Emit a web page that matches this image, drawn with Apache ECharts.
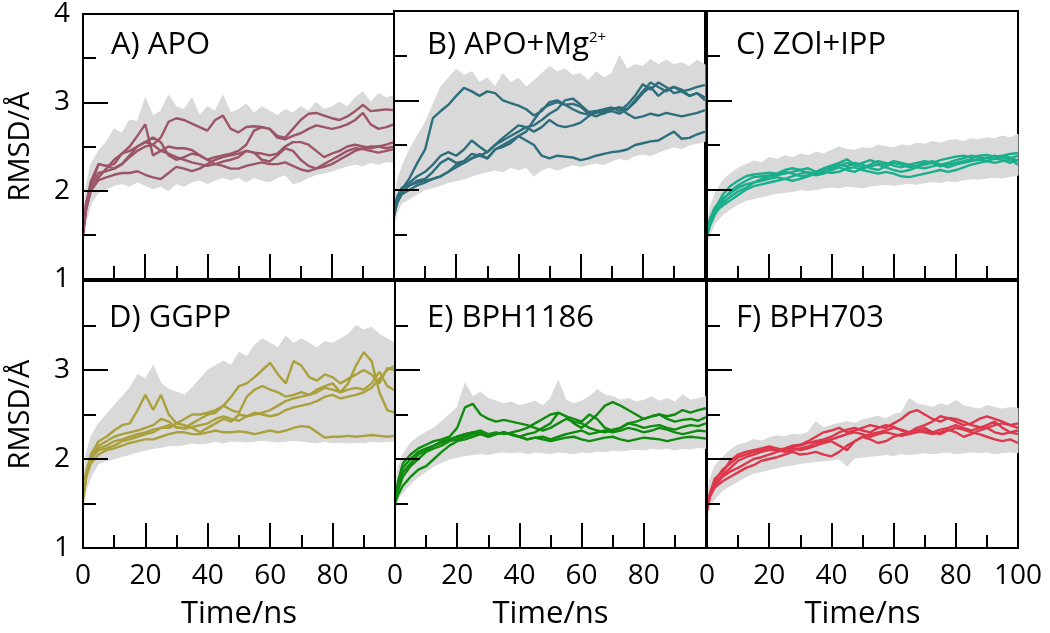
<!DOCTYPE html>
<html>
<head>
<meta charset="utf-8">
<script src="https://cdn.jsdelivr.net/npm/echarts@6/dist/echarts.min.js"></script>
<style>
html,body{margin:0;padding:0;background:#fff;}
#chart{width:1050px;height:633px;}
</style>
</head>
<body>
<div id="chart"></div>
<script>
// time axis (ns)
const T = [0,1,2.5,5,7.5,10, 12.5,15,17.5,20,22.5,25, 27.5,30,32.5,35,37.5,40, 42.5,45,47.5,50,52.5,55, 57.5,60,62.5,65,67.5,70, 72.5,75,77.5,80,82.5,85, 87.5,90,92.5,95,97.5,100];

const yTicks = [1,2,3,4];
const xTicks = [0,20,40,60,80,100];

// Panel titles
const titlesText = ['A) APO','B) APO+Mg','C) ZOl+IPP','D) GGPP','E) BPH1186','F) BPH703'];
const colors = ['#9b5566','#2e6e7c','#1aae8c','#aaa03c','#0f8c0f','#dc374b'];

// A) APO runs (smoothed)
const runsA = [
 [1.52,1.80,2.05,2.20,2.22,2.25, 2.30,2.38,2.45,2.50,2.52,2.60, 2.78,2.82,2.80,2.76,2.72,2.68, 2.80,2.85,2.70,2.66,2.72,2.73, 2.72,2.70,2.62,2.60,2.70,2.80, 2.87,2.88,2.85,2.82,2.80,2.84, 2.90,2.97,2.90,2.91,2.92,2.91],
 [1.55,1.85,2.10,2.30,2.28,2.30, 2.42,2.50,2.62,2.75,2.40,2.45, 2.50,2.48,2.48,2.46,2.40,2.35, 2.38,2.40,2.42,2.45,2.52,2.68, 2.72,2.70,2.60,2.58,2.62,2.65, 2.70,2.74,2.72,2.70,2.72,2.75, 2.80,2.88,2.75,2.70,2.72,2.75],
 [1.50,1.78,2.00,2.15,2.25,2.35, 2.42,2.45,2.50,2.55,2.52,2.45, 2.42,2.38,2.35,2.32,2.30,2.28, 2.30,2.33,2.35,2.38,2.45,2.43, 2.42,2.40,2.42,2.50,2.55,2.55, 2.52,2.45,2.38,2.42,2.45,2.50, 2.52,2.50,2.48,2.50,2.52,2.55],
 [1.55,1.80,2.00,2.12,2.15,2.18, 2.20,2.20,2.22,2.18,2.15,2.13, 2.20,2.27,2.25,2.22,2.25,2.30, 2.35,2.38,2.40,2.42,2.45,2.43, 2.35,2.33,2.40,2.48,2.45,2.35, 2.28,2.25,2.27,2.30,2.35,2.40, 2.45,2.48,2.50,2.50,2.48,2.50],
 [1.50,1.85,2.05,2.30,2.28,2.25, 2.30,2.40,2.50,2.55,2.60,2.55, 2.40,2.35,2.38,2.42,2.40,2.35, 2.30,2.28,2.25,2.25,2.28,2.30, 2.32,2.30,2.30,2.32,2.28,2.24, 2.22,2.25,2.30,2.35,2.40,2.45, 2.48,2.47,2.45,2.43,2.45,2.47]
];
const bandLoA = [1.40,1.65,1.85,1.98,2.02,2.06, 2.08,2.05,2.10,2.06,2.02,2.05, 2.00,2.08,2.05,2.10,2.12,2.08, 2.12,2.15,2.12,2.15,2.10,2.15, 2.12,2.10,2.15,2.18,2.08,2.10, 2.15,2.18,2.20,2.22,2.25,2.28, 2.30,2.28,2.32,2.30,2.33,2.32];
const bandHiA = [1.70,2.05,2.30,2.45,2.55,2.70, 2.65,2.80,2.78,3.05,2.85,2.90, 3.08,2.95,2.92,3.05,2.85,2.95, 2.90,3.08,2.88,2.92,2.98,2.88, 2.95,2.90,2.85,2.92,2.88,2.95, 2.90,3.00,2.92,2.95,3.00,2.95, 3.05,3.12,3.00,3.10,3.05,3.08];

// B) APO+Mg2+
const runsB = [
 [1.75,1.90,2.00,2.13,2.30,2.45, 2.80,2.88,2.95,3.05,3.14,3.10, 3.05,3.10,3.08,3.00,2.97,2.94, 2.90,2.83,2.88,2.98,3.00,2.95, 2.96,2.93,2.85,2.82,2.86,2.88, 2.85,2.90,3.00,3.10,3.20,3.15, 3.10,3.15,3.12,3.05,3.08,3.00],
 [1.72,1.85,1.95,2.00,2.05,2.08, 2.12,2.15,2.20,2.25,2.30,2.35, 2.38,2.42,2.50,2.55,2.60,2.65, 2.70,2.72,2.78,2.85,2.90,3.00, 3.02,2.95,2.87,2.88,2.90,2.92, 2.88,2.95,3.05,3.18,3.12,3.20, 3.15,3.08,3.10,3.12,3.15,3.17],
 [1.75,1.92,2.02,2.08,2.15,2.20, 2.28,2.38,2.42,2.38,2.45,2.55, 2.48,2.42,2.50,2.58,2.65,2.72, 2.70,2.65,2.70,2.78,2.72,2.70, 2.72,2.75,2.82,2.88,2.85,2.90, 2.92,2.85,2.80,2.82,2.85,2.83, 2.86,2.84,2.82,2.84,2.86,2.89],
 [1.70,1.85,1.98,2.05,2.10,2.12, 2.20,2.30,2.35,2.30,2.32,2.40, 2.38,2.35,2.45,2.50,2.55,2.60, 2.65,2.78,2.90,2.95,2.98,2.95, 2.90,2.86,2.84,2.86,2.88,2.90, 2.92,2.90,2.98,3.08,3.15,3.05, 3.12,3.15,3.10,3.05,3.08,3.03],
 [1.74,1.88,1.98,2.05,2.08,2.10, 2.12,2.15,2.20,2.28,2.30,2.35, 2.40,2.35,2.45,2.48,2.52,2.60, 2.55,2.50,2.38,2.35,2.38,2.37, 2.36,2.33,2.35,2.38,2.40,2.42, 2.43,2.45,2.50,2.52,2.54,2.55, 2.60,2.65,2.57,2.58,2.62,2.65]
];
const bandLoB = [1.60,1.75,1.85,1.90,1.95,2.00, 2.02,2.05,2.08,2.10,2.12,2.15, 2.18,2.20,2.22,2.20,2.25,2.22, 2.25,2.15,2.22,2.25,2.22,2.25, 2.28,2.26,2.28,2.30,2.28,2.32, 2.35,2.33,2.38,2.40,2.38,2.42, 2.45,2.48,2.46,2.50,2.52,2.54];
const bandHiB = [1.85,2.10,2.25,2.45,2.60,2.75, 2.95,3.15,3.25,3.35,3.28,3.32, 3.20,3.25,3.15,3.30,3.20,3.25, 3.15,3.22,3.30,3.38,3.32,3.35, 3.28,3.30,3.22,3.32,3.25,3.30, 3.50,3.35,3.40,3.38,3.46,3.40, 3.45,3.40,3.42,3.38,3.45,3.40];

// C) ZOl+IPP
const runsC = [
 [1.50,1.62,1.78,1.94,2.04,2.10, 2.15,2.17,2.18,2.19,2.18,2.22, 2.24,2.22,2.18,2.20,2.24,2.27, 2.30,2.34,2.28,2.25,2.28,2.32, 2.30,2.27,2.25,2.28,2.30,2.32, 2.30,2.33,2.35,2.37,2.38,2.36, 2.38,2.39,2.37,2.38,2.40,2.41],
 [1.52,1.65,1.75,1.88,1.98,2.05, 2.10,2.14,2.15,2.16,2.18,2.20, 2.18,2.15,2.16,2.20,2.22,2.25, 2.28,2.26,2.30,2.28,2.24,2.22, 2.26,2.30,2.28,2.25,2.27,2.30, 2.32,2.28,2.30,2.33,2.35,2.38, 2.36,2.35,2.38,2.36,2.35,2.38],
 [1.48,1.60,1.72,1.85,1.92,1.98, 2.02,2.08,2.10,2.12,2.14,2.12, 2.15,2.18,2.20,2.16,2.18,2.22, 2.25,2.22,2.20,2.24,2.26,2.28, 2.25,2.22,2.20,2.22,2.25,2.24, 2.26,2.28,2.25,2.28,2.30,2.32, 2.34,2.32,2.35,2.33,2.30,2.34],
 [1.50,1.62,1.75,1.82,1.88,1.94, 2.00,2.04,2.06,2.08,2.10,2.12, 2.10,2.12,2.15,2.18,2.20,2.19, 2.20,2.24,2.25,2.22,2.20,2.18, 2.20,2.18,2.15,2.14,2.16,2.18, 2.20,2.22,2.20,2.22,2.25,2.28, 2.30,2.32,2.30,2.32,2.34,2.28],
 [1.52,1.68,1.80,1.90,1.96,2.02, 2.06,2.08,2.12,2.15,2.16,2.18, 2.20,2.22,2.24,2.20,2.22,2.24, 2.27,2.30,2.27,2.30,2.33,2.30, 2.28,2.32,2.30,2.28,2.26,2.28, 2.30,2.26,2.28,2.30,2.32,2.34, 2.33,2.36,2.34,2.37,2.36,2.32]
];
const bandLoC = [1.40,1.50,1.62,1.72,1.78,1.84, 1.88,1.90,1.92,1.94,1.96,1.97, 1.98,2.00,1.99,2.00,2.02,2.03, 2.02,2.04,2.03,2.02,2.04,2.05, 2.06,2.05,2.06,2.07,2.06,2.08, 2.09,2.08,2.10,2.09,2.11,2.12, 2.12,2.13,2.14,2.13,2.15,2.16];
const bandHiC = [1.60,1.80,1.95,2.10,2.18,2.24, 2.28,2.32,2.30,2.36,2.34,2.38, 2.36,2.40,2.38,2.42,2.40,2.44, 2.48,2.45,2.44,2.47,2.46,2.50, 2.48,2.47,2.50,2.49,2.52,2.51, 2.54,2.52,2.55,2.56,2.54,2.57, 2.56,2.58,2.57,2.60,2.58,2.62];

// D) GGPP
const runsD = [
 [1.55,1.80,1.95,2.05,2.10,2.12, 2.15,2.18,2.20,2.22,2.22,2.25, 2.28,2.30,2.30,2.28,2.28,2.30, 2.32,2.30,2.30,2.31,2.30,2.28, 2.30,2.32,2.30,2.32,2.35,2.37, 2.36,2.30,2.24,2.25,2.25,2.26, 2.25,2.26,2.27,2.26,2.25,2.26],
 [1.60,1.85,2.05,2.20,2.25,2.32, 2.38,2.40,2.55,2.72,2.55,2.72, 2.50,2.40,2.38,2.35,2.30,2.35, 2.40,2.45,2.42,2.50,2.48,2.50, 2.52,2.55,2.60,2.65,2.68,2.70, 2.72,2.75,2.80,2.78,2.75,2.85, 3.05,3.20,3.10,2.75,2.55,2.52],
 [1.55,1.80,2.00,2.15,2.20,2.25, 2.28,2.30,2.32,2.35,2.38,2.45, 2.42,2.35,2.35,2.40,2.45,2.50, 2.52,2.60,2.70,2.82,2.85,2.92, 3.00,3.08,2.95,2.85,3.10,3.05, 2.92,2.88,2.95,2.92,2.85,2.90, 2.95,3.00,2.95,2.85,3.02,3.00],
 [1.60,1.85,2.00,2.12,2.15,2.20, 2.22,2.25,2.28,2.30,2.33,2.35, 2.35,2.40,2.45,2.50,2.50,2.52, 2.55,2.60,2.55,2.52,2.70,2.78, 2.82,2.78,2.75,2.70,2.72,2.75, 2.72,2.78,2.82,2.85,2.75,2.78, 2.80,2.78,2.85,2.98,2.82,2.77],
 [1.55,1.80,2.00,2.10,2.12,2.15, 2.20,2.22,2.25,2.28,2.30,2.35, 2.38,2.36,2.34,2.36,2.38,2.40, 2.45,2.48,2.45,2.43,2.48,2.52, 2.50,2.48,2.50,2.55,2.58,2.60, 2.62,2.65,2.70,2.72,2.68,2.70, 2.72,2.75,2.80,2.90,3.00,3.05]
];
const bandLoD = [1.45,1.65,1.80,1.95,1.98,2.00, 2.03,2.05,2.08,2.10,2.12,2.13, 2.15,2.15,2.16,2.18,2.17,2.18, 2.20,2.18,2.20,2.20,2.19,2.20, 2.21,2.20,2.19,2.20,2.21,2.20, 2.19,2.18,2.20,2.18,2.19,2.18, 2.19,2.18,2.20,2.19,2.20,2.20];
const bandHiD = [1.70,2.05,2.25,2.40,2.50,2.60, 2.70,2.80,2.95,2.90,3.05,2.85, 2.78,2.75,2.72,2.80,2.90,3.00, 3.05,3.10,3.05,3.20,3.15,3.28, 3.35,3.30,3.25,3.38,3.30,3.35, 3.30,3.25,3.32,3.30,3.35,3.40, 3.50,3.45,3.48,3.40,3.35,3.30];

// E) BPH1186
const runsE = [
 [1.55,1.75,1.95,2.05,2.12,2.16, 2.20,2.22,2.25,2.35,2.58,2.62, 2.50,2.45,2.42,2.44,2.42,2.40, 2.38,2.35,2.32,2.35,2.40,2.45, 2.42,2.40,2.35,2.32,2.30,2.33, 2.35,2.40,2.42,2.45,2.48,2.50, 2.48,2.50,2.55,2.52,2.55,2.57],
 [1.55,1.70,1.85,1.95,2.05,2.10, 2.15,2.20,2.22,2.25,2.28,2.30, 2.32,2.28,2.30,2.28,2.30,2.32, 2.35,2.40,2.45,2.50,2.52,2.48, 2.40,2.35,2.42,2.50,2.60,2.64, 2.60,2.55,2.50,2.45,2.48,2.50, 2.45,2.42,2.44,2.45,2.43,2.47],
 [1.54,1.72,1.90,2.00,2.08,2.12, 2.15,2.18,2.22,2.25,2.28,2.30, 2.28,2.26,2.28,2.30,2.27,2.25, 2.28,2.30,2.35,2.40,2.52,2.48, 2.45,2.42,2.50,2.45,2.35,2.32, 2.35,2.40,2.38,2.35,2.37,2.38, 2.35,2.33,2.36,2.38,2.37,2.40],
 [1.55,1.65,1.80,1.92,2.00,2.08, 2.12,2.15,2.20,2.22,2.25,2.28, 2.30,2.25,2.28,2.30,2.28,2.25, 2.22,2.24,2.25,2.22,2.25,2.28, 2.30,2.32,2.28,2.30,2.32,2.30, 2.32,2.35,2.33,2.30,2.32,2.35, 2.33,2.30,2.28,2.30,2.32,2.31],
 [1.50,1.60,1.70,1.80,1.88,1.92, 2.00,2.08,2.15,2.20,2.22,2.25, 2.28,2.25,2.28,2.30,2.28,2.25, 2.22,2.24,2.22,2.20,2.22,2.24, 2.25,2.22,2.20,2.22,2.24,2.25, 2.22,2.20,2.22,2.24,2.23,2.22, 2.20,2.22,2.24,2.25,2.24,2.23]
];
const bandLoE = [1.45,1.55,1.62,1.72,1.80,1.86, 1.92,1.96,2.00,2.02,2.04,2.05, 2.06,2.05,2.07,2.08,2.07,2.08, 2.06,2.08,2.07,2.06,2.08,2.07, 2.06,2.08,2.07,2.09,2.08,2.10, 2.09,2.10,2.11,2.10,2.12,2.11, 2.12,2.10,2.12,2.11,2.13,2.12];
const bandHiE = [1.65,1.90,2.05,2.18,2.25,2.30, 2.35,2.42,2.50,2.58,2.85,2.70, 2.75,2.68,2.65,2.62,2.64,2.60, 2.62,2.65,2.60,2.68,2.88,2.66, 2.62,2.65,2.70,2.78,2.72,2.70, 2.66,2.68,2.64,2.66,2.70,2.65, 2.68,2.64,2.72,2.66,2.68,2.70];

// F) BPH703
const runsF = [
 [1.42,1.60,1.75,1.88,1.95,2.02, 2.05,2.08,2.10,2.12,2.10,2.12, 2.15,2.16,2.20,2.25,2.30,2.32, 2.35,2.30,2.32,2.35,2.38,2.36, 2.35,2.40,2.45,2.52,2.55,2.50, 2.45,2.42,2.46,2.45,2.42,2.38, 2.36,2.35,2.38,2.40,2.38,2.40],
 [1.45,1.62,1.78,1.85,1.98,2.05, 2.08,2.10,2.12,2.14,2.12,2.10, 2.13,2.15,2.18,2.20,2.22,2.25, 2.30,2.33,2.35,2.32,2.30,2.35, 2.38,2.36,2.32,2.30,2.35,2.38, 2.42,2.48,2.46,2.42,2.38,2.40, 2.45,2.48,2.45,2.42,2.38,2.35],
 [1.45,1.60,1.70,1.80,1.86,1.90, 1.95,2.00,2.02,2.05,2.08,2.10, 2.12,2.10,2.12,2.15,2.18,2.20, 2.15,2.10,2.20,2.25,2.28,2.30, 2.32,2.35,2.33,2.30,2.32,2.35, 2.30,2.28,2.32,2.35,2.33,2.30, 2.28,2.25,2.22,2.20,2.22,2.18],
 [1.44,1.58,1.68,1.75,1.80,1.85, 1.90,1.93,1.98,2.00,2.02,2.05, 2.08,2.05,2.06,2.08,2.05,2.03, 2.08,2.15,2.20,2.25,2.22,2.18, 2.20,2.25,2.28,2.30,2.32,2.30, 2.28,2.30,2.33,2.30,2.25,2.28, 2.32,2.35,2.30,2.28,2.30,2.32],
 [1.42,1.60,1.72,1.82,1.90,1.98, 2.02,2.05,2.08,2.10,2.10,2.08, 2.10,2.12,2.14,2.18,2.20,2.22, 2.25,2.28,2.30,2.28,2.25,2.28, 2.30,2.28,2.26,2.28,2.30,2.32, 2.30,2.33,2.35,2.38,2.35,2.32, 2.35,2.38,2.42,2.35,2.30,2.28]
];
const bandLoF = [1.35,1.48,1.55,1.65,1.70,1.75, 1.80,1.84,1.86,1.88,1.90,1.92, 1.93,1.95,1.96,1.97,1.98,1.99, 2.00,1.92,2.01,2.02,2.03,2.04, 2.05,2.04,2.06,2.05,2.06,2.07, 2.06,2.07,2.08,2.06,2.07,2.08, 2.07,2.08,2.06,2.07,2.08,2.07];
const bandHiF = [1.55,1.78,1.92,2.02,2.10,2.16, 2.18,2.22,2.20,2.24,2.26,2.25, 2.28,2.27,2.30,2.42,2.35,2.38, 2.40,2.42,2.40,2.44,2.46,2.48, 2.45,2.50,2.52,2.68,2.62,2.60, 2.58,2.62,2.60,2.66,2.60,2.58, 2.56,2.60,2.58,2.56,2.58,2.57];

const allRuns = [runsA, runsB, runsC, runsD, runsE, runsF];
const bandsLo = [bandLoA, bandLoB, bandLoC, bandLoD, bandLoE, bandLoF];
const bandsHi = [bandHiA, bandHiB, bandHiC, bandHiD, bandHiE, bandHiF];

const FONT = '"Open Sans", "DejaVu Sans", sans-serif';
const gridPos = [
  {left: 83, top: 11, width: 311, height: 268},
  {left: 394, top: 11, width: 311, height: 268},
  {left: 707, top: 11, width: 311, height: 268},
  {left: 83, top: 281, width: 312, height: 267},
  {left: 395, top: 281, width: 311, height: 267},
  {left: 707, top: 281, width: 311, height: 267}
];
const titlePos = [
  {left: 111, top: 30}, {left: 427, top: 30}, {left: 736, top: 30},
  {left: 109, top: 303}, {left: 427, top: 303}, {left: 736, top: 303}
];

const grids = [], xAxes = [], yAxes = [], series = [], titles = [];
const tickStyle = {color: '#000', width: 2};

for (let i = 0; i < 6; i++) {
  const bottomRow = i >= 3;
  grids.push(Object.assign({show: true, borderColor: '#000', borderWidth: 2, backgroundColor: 'transparent', z: 0}, gridPos[i]));
  xAxes.push({
    gridIndex: i, type: 'value', min: xTicks[0], max: xTicks[xTicks.length - 1], interval: 20, z: 10,
    axisLine: {show: true, onZero: false, lineStyle: {color: '#000', width: 2}},
    axisTick: {show: true, inside: true, length: 25, lineStyle: tickStyle},
    minorTick: {show: true, splitNumber: 2, length: 13, lineStyle: tickStyle},
    splitLine: {show: false},
    axisLabel: {
      show: bottomRow, fontSize: 28, color: '#000', fontFamily: FONT, margin: 14,
      formatter: (v) => (i < 5 && v === 100) ? '' : String(v)
    },
    name: bottomRow ? 'Time/ns' : '', nameLocation: 'middle', nameGap: 51,
    nameTextStyle: {fontSize: 31, color: '#000', fontFamily: FONT}
  });
  yAxes.push({
    gridIndex: i, type: 'value', min: yTicks[0], max: yTicks[yTicks.length - 1], interval: 1, z: 10,
    axisLine: {show: true, onZero: false, lineStyle: {color: '#000', width: 2}},
    axisTick: {show: true, inside: true, length: 25, lineStyle: tickStyle},
    minorTick: {show: true, splitNumber: 2, length: 13, lineStyle: tickStyle},
    splitLine: {show: false},
    axisLabel: {
      show: (i === 0 || i === 3), fontSize: 28, color: '#000', fontFamily: FONT, margin: 13,
      formatter: (v) => (i === 3 && v === 4) ? '' : String(v)
    },
    name: (i === 0 || i === 3) ? 'RMSD/Å' : '', nameLocation: 'middle', nameGap: 48,
    nameTextStyle: {fontSize: 29, color: '#000', fontFamily: FONT}
  });

  const lo = bandsLo[i], hi = bandsHi[i];
  // grey band of the raw (unsmoothed) trajectories: polygon between lower and upper envelope
  series.push({
    type: 'custom', xAxisIndex: i, yAxisIndex: i, silent: true, z: 1,
    data: T.map((t, k) => [t, lo[k], hi[k]]),
    encode: {x: 0, y: [1, 2]},
    renderItem: function (params, api) {
      if (params.dataIndex !== 0) return null;
      const pts = [];
      for (let k = 0; k < T.length; k++) pts.push(api.coord([T[k], hi[k]]));
      for (let k = T.length - 1; k >= 0; k--) pts.push(api.coord([T[k], lo[k]]));
      return {type: 'polygon', shape: {points: pts}, style: {fill: '#d9d9d9', stroke: '#d9d9d9', lineWidth: 1}};
    }
  });
  allRuns[i].forEach((run) => {
    series.push({
      type: 'line', xAxisIndex: i, yAxisIndex: i, symbol: 'none', z: 3,
      lineStyle: {color: colors[i], width: 2.4}, data: T.map((t, k) => [t, run[k]])
    });
  });

  const tt = {
    left: titlePos[i].left, top: titlePos[i].top, padding: 0,
    textStyle: {fontSize: 31, fontWeight: 'normal', color: '#000', fontFamily: FONT}
  };
  if (i === 1) {
    tt.text = '{m|' + titlesText[i] + '}{s|2+}';
    tt.textStyle.rich = {
      m: {fontSize: 31, color: '#000', fontFamily: FONT},
      s: {fontSize: 15, color: '#000', fontFamily: FONT, verticalAlign: 'top', lineHeight: 16}
    };
  } else {
    tt.text = titlesText[i];
  }
  titles.push(tt);
}

const chart = echarts.init(document.getElementById('chart'), null, {renderer: 'canvas'});
chart.setOption({
  animation: false,
  backgroundColor: '#fff',
  title: titles,
  grid: grids,
  xAxis: xAxes,
  yAxis: yAxes,
  series: series
});
</script>
</body>
</html>
